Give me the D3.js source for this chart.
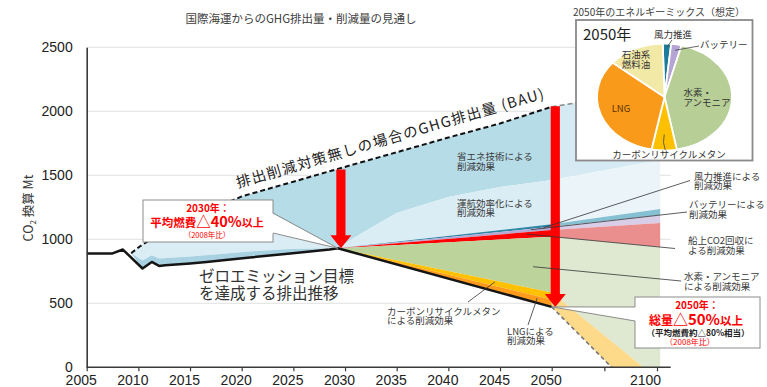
<!DOCTYPE html>
<html><head><meta charset="utf-8">
<script src="https://cdn.jsdelivr.net/npm/d3@7"></script>
<style>
body{margin:0;background:#fff}
svg{display:block}
text{font-family:"Noto Sans CJK JP","Noto Sans",sans-serif;fill:#333}
</style></head><body>
<svg id="c" width="767" height="387"></svg>
<script>
// ---------- data (CO2-equivalent, Mt) ----------
// emission path of the zero-emission scenario (actual values, then the 2050 target)
const pathYears  = [2005, 2007.5, 2008.5, 2010.4, 2011.3, 2012, 2012.6, 2015, 2016.6, 2018.2, 2020.8, 2024.7, 2028.5, 2029.3, 2050];
const pathValues = [890, 890, 920, 772, 823, 792, 797, 811, 823, 837, 858, 889, 920, 930, 472];

// business-as-usual emissions (no reduction measures)
const bauYears  = [2009.3, 2010.1, 2012, 2015, 2020, 2025, 2029.3, 2035, 2040, 2045, 2050, 2061, 2101.5];
const bauValues = [891, 942, 1040, 1160, 1335, 1450, 1550, 1680, 1795, 1905, 2035, 2064, 2250];

// split of the reduction already achieved before 2030
const preYears = [2009.3, 2010.4, 2011.3, 2012, 2015, 2020.8, 2024.7, 2029.3];
const preLow   = [891, 835, 875, 850, 865, 905, 925, 930];
const preMid   = [891, 960, 990, 1000, 1040, 1080, 1090, 930];

// lower edge of the energy-saving technology wedge after 2030
const effYears  = [2029.3, 2031, 2035, 2040, 2045, 2050];
const effValues = [930, 1018, 1206, 1331, 1409, 1463];

// upper edges of the stacked reduction wedges, 2030 -> 2050
const fanYears = [2029.3, 2050];
const fanWind  = [930, 1117];   // wind-assisted propulsion
const fanBatt  = [930, 1098];   // battery
const fanCcs   = [930, 1072];   // onboard CO2 capture
const fanH2    = [930, 1020];   // hydrogen / ammonia
const fanMeth  = [930, 585];    // carbon-recycled methane
const fanLng   = [930, 530];    // LNG

// the same wedges carried on past 2050
const extYears = [2050, 2101.5];
const extEff   = [1463, 1620];
const extWind  = [1117, 1236];
const extBatt  = [1098, 1189];
const extCcs   = [1072, 1127];
const extH2    = [1020, 940];
const tailYears  = [2050, 2078.5];  const tailValues  = [472, 0];
const methYears  = [2050, 2093.5];  const methValues  = [585, 0];

// reduction arrows
const arrowYears = [2029.6, 2051.7];
const arrowFrom  = [1545, 2040];
const arrowTo    = [930, 472];

// 2050 energy mix
const mixLabels = ["風力推進", "バッテリー", "水素・アンモニア", "カーボンリサイクルメタン", "LNG", "石油系燃料油"];
const mixShares = [2, 2.5, 43, 6, 33, 13.5];

// axes
const xTicks = [2005, 2010, 2015, 2020, 2025, 2030, 2035, 2040, 2045, 2050, 2075, 2100];
const yTicks = [0, 500, 1000, 1500, 2000, 2500];

// ---------- drawing ----------
const svg = d3.select("#c");
const x = d3.scaleLinear().domain([2005, 2050, 2100]).range([86.7, 551.7, 657]);
const y = d3.scaleLinear().domain([0, 2500]).range([367.3, 47.3]);

const pts = (ys, vs) => ys.map((yr, i) => [yr, vs[i]]);
const line = d3.line().x(d => x(d[0])).y(d => y(d[1]));
const poly = (top, bottom) => line(top.concat(bottom.slice().reverse())) + "Z";

const path = pts(pathYears, pathValues);
const bau = pts(bauYears, bauValues);
const bauMain = bau.filter(d => d[0] <= 2050);
const bauExt = bau.filter(d => d[0] >= 2050);

const col = {
  eff: "#b6dce8", ops: "#dbedf4", preDark: "#a8d2e1",
  wind: "#2f87a6", batt: "#b8a8d5", ccs: "#ff0000", h2: "#bcd39c", meth: "#ffc000", lng: "#ff9b1c",
  effX: "#d5eaf2", opsX: "#ebf5f9", windX: "#86c1d3", battX: "#d8cee8", ccsX: "#ea8e8e", h2X: "#dfe9d1", methX: "#fdd98a"
};

// gridlines
svg.append("g").selectAll("line").data(yTicks.filter(v => v > 0)).join("line")
  .attr("x1", x(2005)).attr("x2", x(2106.5))
  .attr("y1", d => y(d)).attr("y2", d => y(d))
  .attr("stroke", "#e2e2e2").attr("stroke-width", 1);

const fills = svg.append("g");
const addPoly = (d, c) => fills.append("path").attr("d", d).attr("fill", c);

// wedge boundaries through the whole 2009-2050 span
const effLine = pts(preYears, preMid).concat(pts(effYears, effValues).slice(1));
const lowLine = pts(preYears, preLow).concat(pts(fanYears, fanWind).slice(1));

addPoly(poly(bauMain, effLine), col.eff);
addPoly(poly(effLine, lowLine), col.ops);
addPoly(poly(pts(preYears, preLow), path.filter(d => d[0] >= 2010 && d[0] <= 2029.3)), col.preDark);
addPoly(poly(pts(fanYears, fanWind), pts(fanYears, fanBatt)), col.wind);
addPoly(poly(pts(fanYears, fanBatt), pts(fanYears, fanCcs)), col.batt);
addPoly(poly(pts(fanYears, fanCcs), pts(fanYears, fanH2)), col.ccs);
addPoly(poly(pts(fanYears, fanH2), pts(fanYears, fanMeth)), col.h2);
addPoly(poly(pts(fanYears, fanMeth), pts(fanYears, fanLng)), col.meth);
addPoly(poly(pts(fanYears, fanLng), path.filter(d => d[0] >= 2029.3)), col.lng);

// after 2050
addPoly(poly(bauExt, pts(extYears, extEff)), col.effX);
addPoly(poly(pts(extYears, extEff), pts(extYears, extWind)), col.opsX);
addPoly(poly(pts(extYears, extWind), pts(extYears, extBatt)), col.windX);
addPoly(poly(pts(extYears, extBatt), pts(extYears, extCcs)), col.battX);
addPoly(poly(pts(extYears, extCcs), pts(extYears, extH2)), col.ccsX);
addPoly(line(pts(extYears, extH2).concat([[extYears[1], 0]], pts(methYears, methValues).reverse())) + "Z", col.h2X);
addPoly(poly(pts(methYears, methValues), pts(tailYears, tailValues)), col.methX);

// lines
svg.append("path").attr("d", line(bauExt)).attr("fill", "none")
  .attr("stroke", "#8a8a8a").attr("stroke-width", 1.5).attr("stroke-dasharray", "5,3");
svg.append("path").attr("d", line(pts(tailYears, tailValues))).attr("fill", "none")
  .attr("stroke", "#777").attr("stroke-width", 1.6).attr("stroke-dasharray", "4,3");
svg.append("path").attr("d", line(bauMain)).attr("fill", "none")
  .attr("stroke", "#111").attr("stroke-width", 2).attr("stroke-dasharray", "5,3");
svg.append("path").attr("d", line(path)).attr("fill", "none")
  .attr("stroke", "#151515").attr("stroke-width", 2.5).attr("stroke-linejoin", "round");

// axes
const gx = svg.append("g").attr("transform", `translate(0,${y(0)})`)
  .call(d3.axisBottom(x).tickValues(xTicks).tickFormat(d => d === 2075 ? "" : String(d)).tickSize(4).tickPadding(4));
gx.select(".domain").attr("d", `M${x(2005)},0H${x(2106.5)}`).attr("stroke", "#3a3a3a").attr("stroke-width", 1.6);
gx.selectAll(".tick line").attr("stroke", "#3a3a3a").attr("stroke-width", 1.2);
gx.selectAll(".tick text").attr("dx", d => d === 2100 ? -12 : -6)
  .style("font-family", "'Liberation Sans',Arial,sans-serif").style("font-size", "14px").style("fill", "#222");

const gy = svg.append("g").attr("transform", `translate(${x(2005)},0)`)
  .call(d3.axisLeft(y).tickValues(yTicks).tickFormat(d3.format("d")).tickSize(0).tickPadding(14));
gy.select(".domain").attr("stroke", "#3a3a3a").attr("stroke-width", 1.6);
gy.selectAll(".tick text").style("font-family", "'Liberation Sans',Arial,sans-serif")
  .style("font-size", "14px").style("fill", "#222");

// y-axis title
const yt = svg.append("text").attr("transform", "translate(33,208) rotate(-90)")
  .attr("text-anchor", "middle").style("font-size", "12.5px").style("fill", "#333");
yt.append("tspan").text("CO");
yt.append("tspan").text("2").style("font-size", "8px").attr("dy", 3);
yt.append("tspan").text(" 換算 Mt").attr("dy", -3);

// title
svg.append("text").attr("x", 301).attr("y", 23).attr("text-anchor", "middle")
  .style("font-size", "11.5px").style("fill", "#404040").text("国際海運からのGHG排出量・削減量の見通し");

// arrows
arrowYears.forEach((yr, i) => {
  const cx = x(yr), y0 = y(arrowFrom[i]), y1 = y(arrowTo[i]);
  const hw = 4.6, hh = 10.5, hl = 13;
  svg.append("path").attr("fill", "#ff0000")
    .attr("d", `M${cx - hw},${y0}L${cx + hw},${y0}L${cx + hw},${y1 - hl}L${cx + hh},${y1 - hl}L${cx},${y1}L${cx - hh},${y1 - hl}L${cx - hw},${y1 - hl}Z`);
});

// BAU label along the dashed line
svg.append("text").attr("transform", "translate(238,188) rotate(-16.3)")
  .style("font-size", "14.5px").style("letter-spacing", "1.3px").style("fill", "#222")
  .text("排出削減対策無しの場合のGHG排出量 (BAU)");

// zero-emission path label
const ze = svg.append("text").style("font-size", "15.5px").style("fill", "#333");
ze.append("tspan").attr("x", 199).attr("y", 282).text("ゼロエミッション目標");
ze.append("tspan").attr("x", 199).attr("y", 298.5).text("を達成する排出推移");

// small two-line labels
function label2(x0, y0, l1, l2, anchor) {
  const t = svg.append("text").attr("text-anchor", anchor || "start").style("font-size", "9.5px").style("fill", "#3a3a3a");
  t.append("tspan").attr("x", x0).attr("y", y0).text(l1);
  t.append("tspan").attr("x", x0).attr("y", y0 + 9.8).text(l2);
}
label2(457, 160, "省エネ技術による", "削減効果");
label2(457, 206.5, "運航効率化による", "削減効果");
label2(694, 179.5, "風力推進による", "削減効果");
label2(689, 208, "バッテリーによる", "削減効果");
label2(688, 244, "船上CO2回収に", "よる削減効果");
label2(684, 280, "水素・アンモニア", "による削減効果");
label2(387, 314.5, "カーボンリサイクルメタン", "による削減効果");
label2(507, 334.5, "LNGによる", "削減効果");

// leader lines: [label end px, data point]
const leaders = [
  [[690, 180.5], [2049.2, 1090]],
  [[687, 212], [2048, 1075]],
  [[675, 248.5], [2047.6, 1040]],
  [[681, 281], [2048.2, 786]],
  [[468, 302], [2044.5, 667]],
  [[528, 325], [2048.6, 541]]
];
leaders.forEach(([a, b]) => {
  svg.append("line").attr("x1", a[0]).attr("y1", a[1]).attr("x2", x(b[0])).attr("y2", y(b[1]))
    .attr("stroke", "#333").attr("stroke-width", 0.8);
});

// callouts
function callout(bx, by, bw, bh, b1, b2, tip) {
  svg.append("rect").attr("x", bx).attr("y", by).attr("width", bw).attr("height", bh)
    .attr("fill", "#fff").attr("stroke", "#8c8c8c").attr("stroke-width", 1);
  const inset = b1[0] > bx + bw / 2 ? -1.5 : 1.5;
  svg.append("path").attr("fill", "#fff")
    .attr("d", `M${b1[0] + inset},${b1[1]}L${tip[0]},${tip[1]}L${b2[0] + inset},${b2[1]}Z`);
  svg.append("path").attr("fill", "none").attr("stroke", "#8c8c8c").attr("stroke-width", 1)
    .attr("d", `M${b1[0]},${b1[1]}L${tip[0]},${tip[1]}L${b2[0]},${b2[1]}`);
}
callout(143, 200, 130, 42, [273, 213], [273, 233], [x(2029.3), y(930)]);
callout(635, 297, 125, 51, [635, 307], [635, 321], [x(2050), y(472)]);

function redLine(cx, cy, parts) {
  const t = svg.append("text").attr("x", cx).attr("y", cy).attr("text-anchor", "middle")
    .style("font-weight", "bold").style("fill", "#ff0000");
  parts.forEach(p => t.append("tspan").style("font-size", p[1] + "px").style("fill", "#ff0000").text(p[0]));
  return t;
}
redLine(208, 211.5, [["2030年：", 10]]);
redLine(207, 227, [["平均燃費", 11.5], ["△40%", 14.5], ["以上", 11]]);
redLine(207, 238, [["（2008年比）", 7.5]]).style("font-weight", "normal");

redLine(697, 308.5, [["2050年：", 10]]);
redLine(696, 325, [["総量", 12], ["△50%", 15], ["以上", 11.5]]);
svg.append("text").attr("x", 698).attr("y", 335.5).attr("text-anchor", "middle")
  .style("font-size", "8.5px").style("font-weight", "bold").style("fill", "#222").text("（平均燃費約△80%相当）");
redLine(690, 345, [["（2008年比）", 8]]).style("font-weight", "normal");

// ---------- inset: 2050 energy mix ----------
svg.append("text").attr("x", 573).attr("y", 16).style("font-size", "10px").style("fill", "#404040")
  .text("2050年のエネルギーミックス（想定）");
svg.append("rect").attr("x", 576).attr("y", 20).attr("width", 176.5).attr("height", 140.5)
  .attr("fill", "#fff").attr("stroke", "#8a8a8a").attr("stroke-width", 1.8);
svg.append("text").attr("x", 583).attr("y", 40).style("font-size", "15px").style("fill", "#222").text("2050年");

const mixColors = ["#1d7c9c", "#b4a5d4", "#b7cf96", "#ffc000", "#fa9a1b", "#f3e9a6"];
const pcx = 664.5, pcy = 97, pr = 53.5, sx = 67.5 / 53.5;
const start = -0.026;
const slices = d3.pie().sort(null).value(d => d).startAngle(start).endAngle(start + 2 * Math.PI)(mixShares);
const arc = d3.arc().innerRadius(0).outerRadius(pr);
svg.append("g").attr("transform", `translate(${pcx},${pcy}) scale(${sx},1)`)
  .selectAll("path").data(slices).join("path")
  .attr("d", arc).attr("fill", (d, i) => mixColors[i])
  .attr("stroke", "#fff").attr("stroke-width", 1.8).attr("vector-effect", "non-scaling-stroke");

// point on the pie rim / interior in page coordinates
const onPie = (s, r) => {
  const a = (s.startAngle + s.endAngle) / 2;
  return [pcx + Math.sin(a) * r * sx, pcy - Math.cos(a) * r];
};
const pieLab = (txt, px, py, anchor, color) => svg.append("text").attr("x", px).attr("y", py)
  .attr("text-anchor", anchor).style("font-size", "9.5px").style("fill", color || "#333").text(txt);

pieLab(mixLabels[0], 673, 38, "middle");
const w0 = onPie(slices[0], pr - 4);
svg.append("line").attr("x1", 672).attr("y1", 40).attr("x2", w0[0]).attr("y2", w0[1]).attr("stroke", "#444").attr("stroke-width", 0.8);
pieLab(mixLabels[1], 700, 48, "start");
const b0 = onPie(slices[1], pr - 6);
svg.append("line").attr("x1", 699).attr("y1", 46).attr("x2", b0[0]).attr("y2", b0[1]).attr("stroke", "#444").attr("stroke-width", 0.8);
const h = svg.append("text").style("font-size", "9.5px").style("fill", "#333");
h.append("tspan").attr("x", 683.5).attr("y", 96).text("水素・");
h.append("tspan").attr("x", 683.5).attr("y", 106).text("アンモニア");
pieLab(mixLabels[3], 669, 158, "middle");
const m0 = onPie(slices[3], pr - 16);
svg.append("path").attr("fill", "none").attr("stroke", "#444").attr("stroke-width", 0.8)
  .attr("d", `M${m0[0]},${m0[1]}Q${m0[0] - 2},${m0[1] + 8} ${m0[0] + 1},${150}`);
pieLab(mixLabels[4], 621, 111.5, "middle", "#5c3300");
const o = svg.append("text").attr("text-anchor", "middle").style("font-size", "9.5px").style("fill", "#333");
o.append("tspan").attr("x", 636).attr("y", 58).text("石油系");
o.append("tspan").attr("x", 636).attr("y", 68).text("燃料油");
</script>
</body></html>
